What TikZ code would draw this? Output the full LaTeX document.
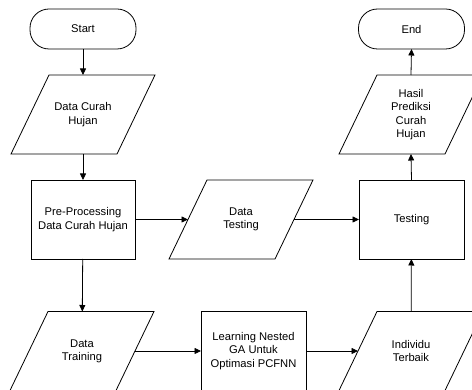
\documentclass[tikz,border=0pt]{standalone}
\usepackage{fontspec}
\setmainfont{Liberation Sans}
\usetikzlibrary{arrows.meta}
\tikzset{
  line/.style={line width=0.8pt, draw=black},
  base/.style={inner sep=0pt, outer sep=0pt, align=center,
    font=\fontsize{11.2}{13.3}\selectfont},
  term/.style={base, line, rounded corners=19pt, minimum width=106pt, minimum height=40pt},
  proc/.style={base, line, minimum width=105pt, minimum height=79pt},
  io/.style={base, minimum width=106pt, minimum height=79pt},
  arr/.style={line, -{Triangle[length=6.5pt,width=6pt]}}
}
\newcommand\iobox[1]{\draw[line] ([xshift=-19pt]#1.south west) -- ([xshift=-19pt]#1.south east) -- ([xshift=19pt]#1.north east) -- ([xshift=19pt]#1.north west) -- cycle;}
\begin{document}
\begin{tikzpicture}[x=1pt,y=-1pt]
\useasboundingbox (0,0) rectangle (472,390);
\begin{scope}
\clip (0,0) rectangle (472,390);
\node[term] (start) at (83,29) {Start};
\node[term] (end) at (411.5,29) {End};
\node[io] (dch) at (83,114.5) {Data Curah\\Hujan};
\iobox{dch}
\node[proc, minimum width=104pt] (pre) at (83,219.5) {Pre-Processing\\Data Curah Hujan};
\node[io] (dtest) at (241,219.5) {Data\\Testing};
\iobox{dtest}
\node[proc] (test) at (411.5,219.5) {Testing};
\node[io] (hasil) at (411,114.5) {Hasil\\Prediksi\\Curah\\Hujan};
\iobox{hasil}
\node[io] (dtrain) at (82,351) {Data\\Training};
\iobox{dtrain}
\node[proc] (learn) at (253.5,351) {Learning Nested\\GA Untuk\\Optimasi PCFNN};
\node[io] (indiv) at (411,351) {Individu\\Terbaik};
\iobox{indiv}
\draw[arr] (start) -- (dch);
\draw[arr] (dch) -- (pre);
\draw[arr] (pre) -- (dtest);
\draw[arr] (dtest) -- (test);
\draw[arr] (pre) -- (dtrain);
\draw[arr] (dtrain) -- (learn);
\draw[arr] (learn) -- (indiv);
\draw[arr] (indiv) -- (test);
\draw[arr] (test.north) -- (hasil.south);
\draw[arr] (hasil.north) -- (end.south);
\end{scope}
\end{tikzpicture}
\end{document}
